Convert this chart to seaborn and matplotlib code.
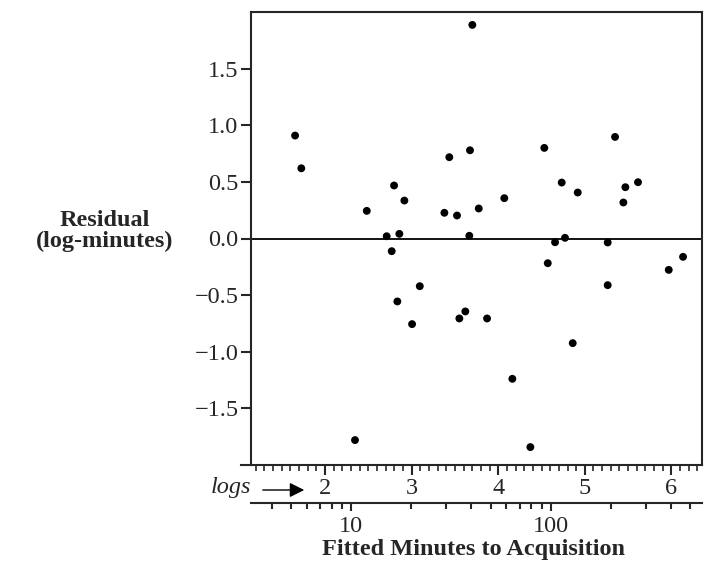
import matplotlib
matplotlib.use('Agg')
import matplotlib.pyplot as plt
import matplotlib.ticker as mticker
import numpy as np
import seaborn as sns
import pandas as pd

# fitted values (natural log of minutes) and residuals
fitted_log = [1.654, 1.726, 2.482, 2.797, 2.916, 2.712, 2.858, 3.378, 3.435, 3.524,
              3.674, 3.701, 3.775, 3.666, 4.070, 4.532, 4.733, 4.918, 5.349, 5.468,
              5.445, 5.614, 2.770, 4.656, 4.771, 5.264, 4.572, 5.969, 6.134, 3.094,
              2.835, 3.005, 5.264, 3.551, 3.620, 3.871, 4.860, 4.163, 2.346, 4.371]
residual = [0.909, 0.620, 0.244, 0.468, 0.335, 0.020, 0.041, 0.227, 0.718, 0.203,
            0.779, 1.886, 0.265, 0.024, 0.356, 0.800, 0.494, 0.406, 0.897, 0.453,
            0.318, 0.497, -0.112, -0.033, 0.006, -0.035, -0.218, -0.277, -0.162, -0.421,
            -0.556, -0.756, -0.412, -0.706, -0.644, -0.706, -0.924, -1.239, -1.780, -1.842]

log_ticks = [2, 3, 4, 5, 6]
minute_ticks = [10, 100]
y_ticks = [-1.5, -1.0, -0.5, 0.0, 0.5, 1.0, 1.5]

df = pd.DataFrame({'fitted': fitted_log, 'resid': residual})

sns.set_style('ticks')
plt.rcParams['font.family'] = ['Liberation Serif', 'DejaVu Serif']
plt.rcParams['axes.linewidth'] = 1.5

FS = 17.5
W, H = 710, 563
fig = plt.figure(figsize=(W / 100, H / 100), dpi=100)
x0, x1 = 251 / W, 702 / W
ax = fig.add_axes([x0, 1 - 465 / H, x1 - x0, (465 - 12) / H])

sns.scatterplot(data=df, x='fitted', y='resid', ax=ax, color='black',
                s=32, edgecolor='none', legend=False)
ax.axhline(0, color='black', lw=1.3)

xmin, xmax = 1.145, 6.353
ax.set_xlim(xmin, xmax)
ax.set_ylim(-2.0, 2.0)
ax.set_yticks(y_ticks)
ax.set_yticklabels([f'{v:.1f}'.replace('-', '\u2212') for v in y_ticks])
ax.set_xticks(log_ticks)
ax.xaxis.set_minor_locator(mticker.MultipleLocator(0.1))
ax.tick_params(axis='y', direction='out', length=7, width=1.5, labelsize=FS, pad=2)
ax.tick_params(axis='x', which='major', direction='out', length=7, width=1.5,
               labelsize=FS, pad=2)
ax.tick_params(axis='x', which='minor', direction='out', length=4, width=1.2)
ax.set_xlabel('')
ax.set_ylabel('')
for sp in ax.spines.values():
    sp.set_linewidth(1.5)
# bottom rule runs a little past the left frame, as in the print
ax.spines['bottom'].set_bounds(xmin - 0.11, xmax)

# second scale: minutes on a log axis, same positions
ax2 = fig.add_axes([x0, 1 - 503 / H, x1 - x0, 0.0001])
ax2.set_xscale('log')
ax2.set_xlim(np.exp(xmin), np.exp(xmax))
ax2.set_xticks(minute_ticks)
ax2.xaxis.set_major_formatter(mticker.FormatStrFormatter('%d'))
ax2.xaxis.set_minor_locator(mticker.LogLocator(base=10, subs=np.arange(2, 10)))
ax2.xaxis.set_minor_formatter(mticker.NullFormatter())
ax2.set_yticks([])
for side in ['left', 'right', 'top']:
    ax2.spines[side].set_visible(False)
ax2.spines['bottom'].set_linewidth(1.5)
ax2.tick_params(axis='x', which='major', direction='out', length=6, width=1.5,
                labelsize=FS, pad=3)
ax2.tick_params(axis='x', which='minor', direction='out', length=4, width=1.5)
ax2.patch.set_visible(False)

fig.text(474 / W, 1 - 549 / H, 'Fitted Minutes to Acquisition', fontsize=FS,
         fontweight='bold', ha='center', va='center')

fig.text(231 / W, 1 - 488 / H, 'logs', fontsize=FS, style='italic',
         ha='center', va='center')
fig.add_artist(matplotlib.patches.FancyArrowPatch(
    (260 / W, 1 - 490 / H), (307 / W, 1 - 490 / H), transform=fig.transFigure,
    arrowstyle='-|>', mutation_scale=22, color='black', lw=1.0))

fig.text(105 / W, 1 - 231 / H, 'Residual\n(log-minutes)', fontsize=FS,
         fontweight='bold', ha='center', va='center', multialignment='center',
         linespacing=1.0)

fig.savefig('out.png', dpi=100)
